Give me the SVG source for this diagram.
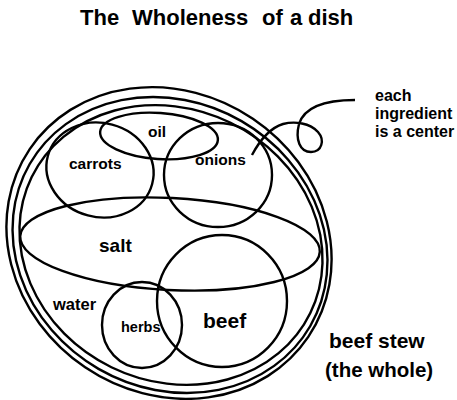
<svg xmlns="http://www.w3.org/2000/svg" width="457" height="400" viewBox="0 0 457 400">
<style>
.s{fill:none;stroke:#000;stroke-width:2.4}
.t{font-family:"Liberation Sans",Arial,sans-serif;font-weight:bold;fill:#000}
</style>
<rect width="457" height="400" fill="#fff"/>
<text class="t" y="25" font-size="22"><tspan x="80">The</tspan><tspan x="132">Wholeness</tspan><tspan x="262">of</tspan><tspan x="290">a</tspan><tspan x="308">dish</tspan></text>
<g id="bowl">
<ellipse class="s" cx="169" cy="243" rx="168" ry="150" transform="rotate(34 169 243)"/>
<ellipse class="s" cx="170" cy="245" rx="162" ry="143" transform="rotate(30 170 245)"/>
<ellipse class="s" cx="171" cy="245" rx="155" ry="136" transform="rotate(26 171 245)"/>
</g>
<g id="salt">
<ellipse class="s" cx="170" cy="244" rx="150" ry="46" transform="rotate(3 170 244)"/>
<text class="t" x="99" y="252" font-size="19">salt</text>
</g>
<g id="carrots">
<ellipse class="s" cx="100" cy="170" rx="54" ry="47" transform="rotate(15 100 170)"/>
<text class="t" x="69" y="169" font-size="15.5">carrots</text>
</g>
<g id="oil">
<ellipse class="s" cx="159" cy="136" rx="59" ry="23" transform="rotate(4 159 136)"/>
<text class="t" x="148" y="137" font-size="15.5">oil</text>
</g>
<g id="onions">
<ellipse class="s" cx="218" cy="175" rx="54" ry="52"/>
<text class="t" x="195" y="165" font-size="15.5">onions</text>
</g>
<g id="water">
<text class="t" x="53" y="310" font-size="16.5">water</text>
</g>
<g id="herbs">
<ellipse class="s" cx="142" cy="325" rx="40" ry="43"/>
<text class="t" x="121" y="332" font-size="14.5">herbs</text>
</g>
<g id="beef">
<ellipse class="s" cx="222" cy="301" rx="65" ry="66"/>
<text class="t" x="203" y="328" font-size="21">beef</text>
</g>
<g id="whole-label">
<text class="t" x="329" y="348" font-size="21">beef stew</text>
<text class="t" x="325" y="377" font-size="20.5">(the whole)</text>
</g>
<g id="note">
<text class="t" x="375" y="101" font-size="16">each</text>
<text class="t" x="375" y="119" font-size="16">ingredient</text>
<text class="t" x="375" y="137" font-size="16">is a center</text>
</g>
<g id="connectors">
<path class="s" stroke-width="2" d="M355,100 C330,100 305,105 299,124 C295,140 300,152 311,152 C322,152 325,140 318,132 C310,123 295,121 283,124 C270,128 260,140 252,155"/>
</g>
</svg>
